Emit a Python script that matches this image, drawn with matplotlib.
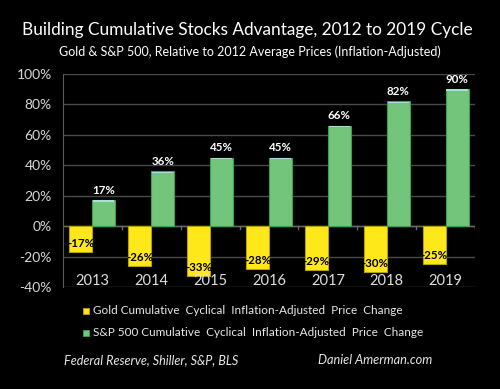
import matplotlib.pyplot as plt
import numpy as np

years = ["2013", "2014", "2015", "2016", "2017", "2018", "2019"]
gold = [-17, -26, -33, -28, -29, -30, -25]
spx = [17, 36, 45, 45, 66, 82, 90]
yticks = [-40, -20, 0, 20, 40, 60, 80, 100]

plt.rcParams['font.family'] = ['Lato', 'DejaVu Sans']

fig = plt.figure(figsize=(5, 3.89), dpi=100, facecolor='black')
W, H = 500, 389
# plot area in pixels: x 63..475, y 74..287
ax = fig.add_axes([63 / W, 1 - 287 / H, (475 - 63) / W, (287 - 74) / H])
ax.set_facecolor('black')

x = np.arange(len(years))
bw = 0.39
ax.bar(x - bw / 2, gold, bw, color='#FFE81A', edgecolor='#B8A000', linewidth=0.8, zorder=3)
ax.bar(x + bw / 2, spx, bw, color='#74C57C', edgecolor='#3E9F4C', linewidth=0.8, zorder=3)
# light top highlight on the stock bars
ax.bar(x + bw / 2, [0.9] * len(spx), bw * 0.92, bottom=np.array(spx) - 1.0,
       color='#A8E0D8', linewidth=0, zorder=4)

for xi, v in zip(x, gold):
    ax.text(xi - bw / 2, v + 5.5, f"{v}%", ha='center', va='center', fontsize=8.3,
            fontweight='bold', color='black', zorder=5)
for xi, v in zip(x, spx):
    ax.text(xi + bw / 2, v + 3, f"{v}%", ha='center', va='bottom', fontsize=8.3,
            fontweight='bold', color='white', zorder=5)
for xi, yr in zip(x, years):
    ax.text(xi, -36, yr, ha='center', va='center', fontsize=10.5, color='#e0e0e0', zorder=5)

ax.set_xlim(-0.5, len(years) - 0.5)
ax.set_ylim(-40, 100)
ax.set_yticks(yticks)
ax.set_yticklabels([f"{t}%" for t in yticks], color='#d8d8d8', fontsize=10)
ax.tick_params(axis='y', length=0, pad=8)
ax.set_xticks([])
ax.grid(axis='y', color='#4a4a4a', linewidth=1, zorder=0)
for side in ['top', 'right', 'bottom']:
    ax.spines[side].set_visible(False)
ax.spines['left'].set_color('#5a5a5a')
ax.axhline(0, color='#6a6a6a', linewidth=1, zorder=2)
for b in np.arange(0.5, len(years) - 0.5, 1.0):
    ax.plot([b, b], [0, -2.2], color='#6a6a6a', linewidth=1, zorder=2)
ax.plot([len(years) - 0.5] * 2, [0, -2.2], color='#6a6a6a', linewidth=1, zorder=2)

fig.text(247 / W, 1 - 30 / H, "Building Cumulative Stocks Advantage, 2012 to 2019 Cycle",
         ha='center', va='center', fontsize=12.4, color='white')
fig.text(250 / W, 1 - 52 / H, "Gold & S&P 500, Relative to 2012 Average Prices (Inflation-Adjusted)",
         ha='center', va='center', fontsize=9.0, color='white')

# legend
ax_l = fig.add_axes([0, 0, 1, 1], facecolor='none')
ax_l.set_xlim(0, W)
ax_l.set_ylim(H, 0)
ax_l.axis('off')
ax_l.scatter([86, 86], [311, 333], marker='s', s=22, c=['#FFE81A', '#74C57C'],
             edgecolors=['#B8A000', '#3E9F4C'], linewidths=0.6)
ax_l.text(93, 311, "Gold Cumulative  Cyclical  Inflation-Adjusted  Price  Change",
          ha='left', va='center', fontsize=8.5, color='#e8e8e8')
ax_l.text(93, 333, "S&P 500 Cumulative  Cyclical  Inflation-Adjusted  Price  Change",
          ha='left', va='center', fontsize=8.5, color='#e8e8e8')
ax_l.text(64, 360, "Federal Reserve, Shiller, S&P, BLS", ha='left', va='center',
          fontsize=9.1, style='italic', color='#e8e8e8')
ax_l.text(318, 360, "Daniel Amerman.com", ha='left', va='center',
          fontsize=9.2, style='italic', color='#e8e8e8')

fig.savefig("out.png", dpi=100, facecolor='black')
